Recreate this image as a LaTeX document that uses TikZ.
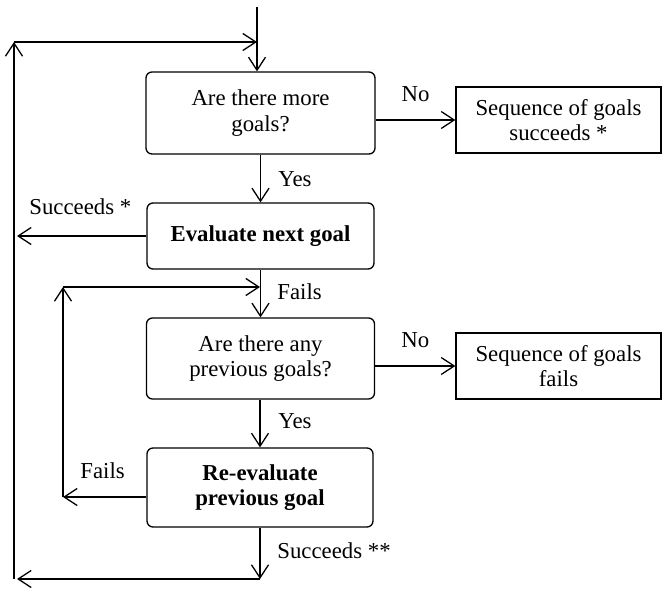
\documentclass[tikz,border=0pt]{standalone}
\usepackage{fontspec}
\setmainfont{Liberation Serif}
\usetikzlibrary{arrows.meta}
\begin{document}
\begin{tikzpicture}[x=0.5pt,y=-0.5pt,
  every node/.style={font=\fontsize{11.4}{12.6}\selectfont, inner sep=0pt},
  rbox/.style={draw, line width=0.65pt, rounded corners=3pt, align=center},
  sbox/.style={draw, line width=0.65pt, align=center},
  conn/.style={line width=0.65pt, -{Straight Barb[length=6.5pt,width=8.5pt,line width=0.65pt]}},
  lbl/.style={anchor=base west}]
\useasboundingbox (0,0) rectangle (662,588);
% boxes
\node[rbox, minimum width=114.5pt, minimum height=41pt] (b1) at (260.5,113) {Are there more\\goals?};
\node[sbox, minimum width=102.5pt, minimum height=33pt] (s1) at (558.5,120) {Sequence of goals\\succeeds *};
\node[rbox, minimum width=113.5pt, minimum height=33pt] (b2) at (260.5,236) {\textbf{Evaluate next goal}};
\node[rbox, minimum width=114pt, minimum height=40.5pt] (b3) at (260.5,358.5) {Are there any\\previous goals?};
\node[sbox, minimum width=102.5pt, minimum height=33pt] (s2) at (558.5,366) {Sequence of goals\\fails};
\node[rbox, minimum width=113pt, minimum height=39.5pt] (b4) at (260,487.5) {\textbf{Re-evaluate}\\\textbf{previous goal}};
% coordinates
\coordinate (top) at (257,7);
\coordinate (tj) at (257,42);
\coordinate (tl) at (14,42);
\coordinate (bl) at (14,579);
\coordinate (blt) at (17,579);
\coordinate (bj) at (260,579);
\coordinate (sl) at (17,236);
\coordinate (fj) at (260,287);
\coordinate (fl) at (63,287);
\coordinate (fb) at (63,497);
% connectors
\draw[conn] (top) -- (top |- b1.north);
\draw[conn] (tl) -- (tj);
\draw[conn] (bl) -- (tl);
\draw[conn] (b1.east |- s1.west) -- (s1.west) node[pos=0.5, above=9pt] {No};
\draw[conn] (b1.south -| b2.north) -- (b2.north);
\node[lbl] at (278,186) {Yes};
\draw[conn] (b2.west) -- (sl);
\node[lbl] at (29,214) {Succeeds *};
\draw[conn] (b2.south) -- (b3.north);
\node[lbl] at (277,299) {Fails};
\draw[conn] (fl) -- (fj);
\draw[conn] (fb) -- (fl);
\draw[conn] (b3.east |- s2.west) -- (s2.west) node[pos=0.5, above=9pt] {No};
\draw[conn] (b3.south -| b4.north) -- (b4.north);
\node[lbl] at (278,428) {Yes};
\draw[conn] (b4.west |- fb) -- (fb);
\node[lbl] at (80,478) {Fails};
\draw[conn] (b4.south) -- (bj);
\node[lbl] at (277,558) {Succeeds **};
\draw[conn] (bj) -- (blt);
\end{tikzpicture}
\end{document}
